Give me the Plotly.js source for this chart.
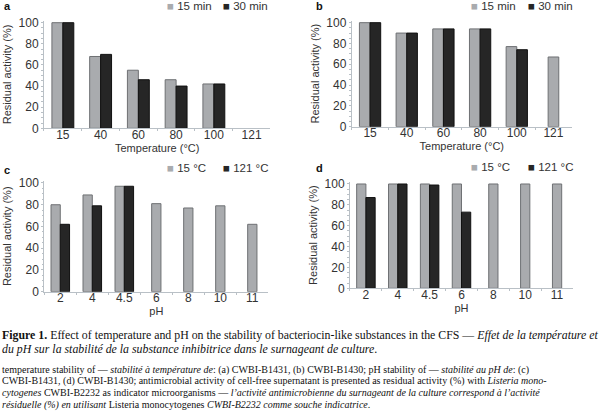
<!DOCTYPE html>
<html>
<head>
<meta charset="utf-8">
<script src="https://cdn.plot.ly/plotly-3.0.1.min.js"></script>
<style>html,body{margin:0;padding:0;background:#fff;}#chart{width:600px;height:415px;}</style>
</head>
<body>
<div id="chart"></div>
<script>
// ---- data ----
const tempCats = ['15', '40', '60', '80', '100', '121'];
const a15min = [100, 68, 55, 46, 42, null];
const a30min = [100, 70, 46, 40, 42, null];
const b15min = [100, 90, 94, 94, 77, 67];
const b30min = [100, 90, 94, 94, 74, null];
const phCats = ['2', '4', '4.5', '6', '8', '10', '11'];
const c15C = [80, 89, 97, 81, 77, 79, 62];
const c121C = [62, 79, 97, null, null, null, null];
const d15C = [100, 100, 100, 100, 100, 100, 100];
const d121C = [87, 100, 99, 73, null, null, null];
const seriesTemp = ['15 min', '30 min'];
const seriesPH = ['15 °C', '121 °C'];
const yTitle = 'Residual activity (%)';
const tempTitle = 'Temperature (°C)';
const phTitle = 'pH';

// ---- styling ----
const GREY = '#a9abae', GREY_LINE = '#6e7073';
const DARK = '#262626', DARK_LINE = '#111111';
const W = 0.29;
const TXT = '#333333';
const AX = '#b9c0c6';
const FONT = 'Liberation Sans, Arial, sans-serif';

function offs(own, other, side) {
  return own.map((v, i) => {
    if (other[i] === null || other[i] === undefined) return -W / 2;
    return side === 0 ? -W : 0;
  });
}
function pair(cats, s1, s2, names, xa, ya) {
  return [
    {type: 'bar', x: cats, y: s1, name: names[0], xaxis: xa, yaxis: ya, showlegend: false,
     width: W, offset: offs(s1, s2, 0),
     marker: {color: GREY, line: {color: GREY_LINE, width: 1}}, hoverinfo: 'skip'},
    {type: 'bar', x: cats, y: s2, name: names[1], xaxis: xa, yaxis: ya, showlegend: false,
     width: W, offset: offs(s2, s1, 1),
     marker: {color: DARK, line: {color: DARK_LINE, width: 1}}, hoverinfo: 'skip'}
  ];
}

const traces = [].concat(
  pair(tempCats, a15min, a30min, seriesTemp, 'x', 'y'),
  pair(tempCats, b15min, b30min, seriesTemp, 'x2', 'y2'),
  pair(phCats, c15C, c121C, seriesPH, 'x3', 'y3'),
  pair(phCats, d15C, d121C, seriesPH, 'x4', 'y4')
);

function xax(domain, anchor, title) {
  return {domain: domain, anchor: anchor, type: 'category', showline: true, linecolor: AX, linewidth: 1,
    ticks: 'outside', tickson: 'boundaries', ticklen: 2, tickcolor: AX, ticklabelstandoff: -5,
    showgrid: false, zeroline: false, tickfont: {family: FONT, size: 12, color: TXT},
    title: {text: title, font: {family: FONT, size: 11, color: TXT}, standoff: 1}, fixedrange: true};
}
function yax(domain, anchor) {
  return {domain: domain, anchor: anchor, range: [0, 102], showline: true, linecolor: AX, linewidth: 1,
    tickvals: [0, 20, 40, 60, 80, 100], ticks: 'outside', ticklen: 2, tickcolor: AX,
    minor: {ticks: 'outside', ticklen: 1.5, tickcolor: AX, dtick: 5, tick0: 0},
    showgrid: false, zeroline: false, tickfont: {family: FONT, size: 12, color: TXT},
    title: {text: yTitle, font: {family: FONT, size: 11, color: TXT}, standoff: 4}, fixedrange: true};
}

// legend entries drawn as text with a coloured square glyph
function legItem(name, color, xpx, ypx) {
  return {xref: 'paper', yref: 'paper', x: xpx / 600, y: 1 - ypx / 415, xanchor: 'left', yanchor: 'middle',
    text: '<span style="color:' + color + '">\u25A0</span> ' + name, showarrow: false,
    font: {family: FONT, size: 11.5, color: TXT}};
}

const capSerif = 'Liberation Serif, Times New Roman, serif';
function cap(text, ypx, size) {
  return {xref: 'paper', yref: 'paper', x: 0, y: 1 - ypx / 415, xanchor: 'left', yanchor: 'middle',
    text: text, showarrow: false, align: 'left', font: {family: capSerif, size: size, color: '#111'}};
}
function lbl(text, xpx, ypx) {
  return {xref: 'paper', yref: 'paper', x: xpx / 600, y: 1 - ypx / 415, xanchor: 'left', yanchor: 'middle',
    text: '<b>' + text + '</b>', showarrow: false, font: {family: FONT, size: 11, color: '#111'}};
}

const layout = {
  width: 600, height: 415, margin: {l: 0, r: 0, t: 0, b: 0},
  paper_bgcolor: '#fff', plot_bgcolor: '#fff', barmode: 'overlay', showlegend: false,
  xaxis: xax([0.0733, 0.4508], 'y', tempTitle),
  yaxis: yax([0.6908, 0.9504], 'x'),
  xaxis2: xax([0.5862, 0.953], 'y2', tempTitle),
  yaxis2: yax([0.6947, 0.9504], 'x2'),
  xaxis3: xax([0.0738, 0.4472], 'y3', phTitle),
  yaxis3: yax([0.2971, 0.5643], 'x3'),
  xaxis4: xax([0.5833, 0.955], 'y4', phTitle),
  yaxis4: yax([0.3053, 0.5617], 'x4'),
  annotations: [
    lbl('a', 2, 6), lbl('b', 314, 6), lbl('c', 2, 170), lbl('d', 314, 168),
    legItem(seriesTemp[0], GREY, 165, 6), legItem(seriesTemp[1], DARK, 221, 6),
    legItem(seriesTemp[0], GREY, 469, 6), legItem(seriesTemp[1], DARK, 526, 6),
    legItem(seriesPH[0], GREY, 165, 168), legItem(seriesPH[1], DARK, 221, 168),
    legItem(seriesPH[0], GREY, 469, 167), legItem(seriesPH[1], DARK, 526, 167),
    cap('<b>Figure 1.</b> Effect of temperature and pH on the stability of bacteriocin-like substances in the CFS — <i>Effet de la température et</i>', 335, 11.85),
    cap('<i>du pH sur la stabilité de la substance inhibitrice dans le surnageant de culture</i>.', 348.5, 11.85),
    cap('temperature stability of — <i>stabilité à température de</i>: (a) CWBI-B1431, (b) CWBI-B1430; pH stability of — <i>stabilité au pH de</i>: (c)', 369.5, 10),
    cap('CWBI-B1431, (d) CWBI-B1430; antimicrobial activity of cell-free supernatant is presented as residual activity (%) with <i>Listeria mono-</i>', 381, 10),
    cap('<i>cytogenes</i> CWBI-B2232 as indicator microorganisms — <i>l\u2019activité antimicrobienne du surnageant de la culture correspond à l\u2019activité</i>', 392.5, 10),
    cap('<i>résiduelle (%) en utilisant</i> Listeria monocytogenes <i>CWBI-B2232 comme souche indicatrice</i>.', 404.5, 10)
  ]
};

Plotly.newPlot('chart', traces, layout, {displayModeBar: false, staticPlot: true});
</script>
</body>
</html>
